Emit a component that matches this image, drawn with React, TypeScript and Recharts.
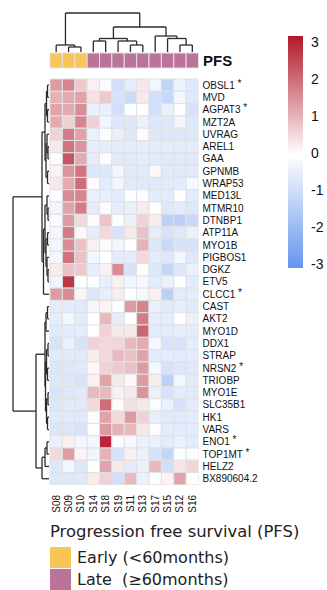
import React from 'react'
import { ComposedChart, XAxis, YAxis, ReferenceArea, ReferenceLine, Scatter } from 'recharts'

const samples = ['S08', 'S09', 'S10', 'S14', 'S18', 'S19', 'S11', 'S13', 'S17', 'S15', 'S12', 'S16']
const pfsGroup = ['Early', 'Early', 'Early', 'Late', 'Late', 'Late', 'Late', 'Late', 'Late', 'Late', 'Late', 'Late']

const genes = [
  'OBSL1', 'MVD', 'AGPAT3', 'MZT2A', 'UVRAG', 'AREL1', 'GAA', 'GPNMB', 'WRAP53', 'MED13L', 'MTMR10',
  'DTNBP1', 'ATP11A', 'MYO1B', 'PIGBOS1', 'DGKZ', 'ETV5', 'CLCC1', 'CAST', 'AKT2', 'MYO1D', 'DDX1',
  'STRAP', 'NRSN2', 'TRIOBP', 'MYO1E', 'SLC35B1', 'HK1', 'VARS', 'ENO1', 'TOP1MT', 'HELZ2', 'BX890604.2',
]
const starredGenes = ['OBSL1', 'AGPAT3', 'CLCC1', 'NRSN2', 'ENO1', 'TOP1MT']

// z-scores, one row per gene, columns in sample order
const zScores = [
  [1.3, 1.6, 0.7, 0.2, -0.1, -0.9, -0.5, 0.3, -0.25, -1.2, -0.35, -0.65],
  [1.0, 1.1, 1.2, 0.4, 0.7, -0.8, -1.0, 0.3, -0.9, -1.1, -0.25, -0.65],
  [1.2, 1.1, 1.5, -0.4, -0.4, -0.9, 0.0, 0.0, -0.9, -0.4, -0.05, -0.8],
  [1.1, 0.6, 1.6, 0.6, -0.25, -0.65, -0.65, -0.4, -0.65, -0.65, -0.25, -0.65],
  [0.6, 1.7, 1.2, -0.4, 0.02, -0.4, -0.65, 0.05, -0.65, -0.65, -0.65, -0.65],
  [0.3, 1.8, 1.4, -0.5, -0.5, -0.55, -0.55, -0.5, -0.55, -0.55, -0.55, -0.55],
  [-0.05, 2.2, 1.1, -0.5, -0.05, -0.6, -0.6, -0.55, -0.6, -0.6, -0.6, -0.6],
  [0.15, 1.4, 1.8, -0.65, -0.65, -0.25, -0.6, -0.6, 0.12, -0.6, -0.6, -0.6],
  [0.3, 1.1, 1.9, 0.05, -0.55, -0.25, -0.6, -0.6, -0.6, -0.6, -0.55, -0.2],
  [-0.05, 1.5, 1.6, -0.4, -0.45, -0.55, -0.05, -0.05, -0.55, -0.55, 0.0, -0.55],
  [-0.25, 1.2, 1.7, -0.5, 0.05, -0.5, -0.4, 0.25, 0.0, -0.65, -0.55, -0.65],
  [-0.1, 1.3, 0.5, 0.05, 0.75, -0.05, -0.4, 0.6, 0.25, -1.3, -1.3, -1.05],
  [-0.25, 1.7, 0.1, -0.5, 0.5, -0.8, 0.3, 0.8, -0.5, -0.8, -0.65, -0.4],
  [-0.25, 1.5, 0.8, 0.2, -0.1, -0.25, 0.0, 1.0, -0.65, -1.05, -0.8, -0.8],
  [-0.25, 1.8, 0.8, -0.25, 0.0, -0.55, -0.55, 0.5, -0.55, -0.65, -0.25, -0.65],
  [0.25, 0.8, 0.7, -0.45, 0.2, 1.5, -0.8, 0.05, -0.65, -1.15, -0.65, -0.4],
  [-0.3, 2.6, 0.0, -0.05, -0.45, 0.2, -0.25, -0.2, -0.55, -0.4, 0.0, -0.55],
  [1.3, 1.5, 0.15, -0.7, -0.45, 0.25, 0.0, -0.2, 0.2, -1.3, -0.55, -0.5],
  [-0.55, -0.55, -0.6, -0.25, 0.15, 0.0, 1.3, 1.6, -0.4, -0.6, -0.45, -0.6],
  [-0.55, -0.25, -0.55, 0.0, 0.9, -0.5, 0.0, 1.7, -0.5, -0.5, 0.0, -0.4],
  [-0.6, -0.55, -0.55, 0.0, 0.6, 0.3, 0.3, 2.0, -0.55, -0.55, -0.45, -0.55],
  [-0.8, -0.4, -0.8, 0.6, 0.5, 0.55, 0.9, 1.1, -0.2, -0.8, -0.8, -0.55],
  [-0.6, -0.6, -0.6, 0.25, 0.5, 0.9, 0.8, 1.2, -0.55, -0.55, -0.55, -0.55],
  [-0.7, -0.65, -0.6, 0.1, 0.6, 0.7, 0.8, 1.3, -0.2, -0.8, -0.65, -0.6],
  [-0.65, -0.65, -0.8, 0.2, 1.2, 0.3, 0.1, 1.3, 0.25, -1.3, -0.25, -0.6],
  [-0.8, -0.65, -0.6, 0.9, 0.9, 0.2, 0.3, 1.4, -0.4, -0.8, -0.55, -0.6],
  [-0.65, -0.6, -0.6, 0.5, 1.9, 0.05, 0.4, 0.3, -0.05, -0.4, -0.8, -0.55],
  [-0.6, -0.6, -0.6, -0.05, 1.2, 0.5, 1.3, 0.6, -0.45, -0.6, -0.6, -0.55],
  [-0.7, -0.7, -0.8, -0.05, 1.3, 1.0, 0.9, 0.3, -0.05, -0.55, -0.55, -0.55],
  [-0.4, 0.2, -0.25, -0.25, 2.8, -0.05, -0.2, -0.4, -0.4, -0.55, -0.4, -0.55],
  [0.5, 1.3, 0.15, -0.3, 1.0, -0.8, 0.2, -0.4, -0.8, -1.15, -0.05, -0.05],
  [-0.65, -0.25, -0.65, 0.0, 1.2, 0.3, -0.55, -0.4, 0.9, -0.9, 0.35, 0.55],
  [-0.65, -0.65, -0.6, 0.25, 0.6, -0.9, 0.9, -0.4, -0.05, 0.15, 1.2, 0.0],
]

// dendrograms: leaf = index, node = [left, right, height]
type Tree = number | [Tree, Tree, number]
const sampleTree: Tree = [
  [0, [1, 2, 5], 7],
  [[[3, 4, 11], [5, [6, 7, 7], 11], 13.5], [8, [9, [10, 11, 7], 13.5], 16], 25],
  39,
]
const geneTree: Tree = [
  [
    [[[0, 1, 1.5], [2, 3, 1.5], 2.5], [[4, [5, 6, 1], 2], [7, 8, 1.5], 3], 4],
    [[[9, [10, 11, 1], 2], [[12, 13, 1.5], [14, [15, 16, 1], 2], 3], 4], 17, 5.5],
    7,
  ],
  [
    [[[18, 19, 1.5], 20, 3], [[[21, 22, 1], [23, 24, 1.5], 2.5], [[25, 26, 1], [27, 28, 1.5], 2.5], 3.5], 4],
    [[[29, 30, 2], 31, 4], 32, 7],
    13,
  ],
  36,
]

const legendTicks = [3, 2, 1, 0, -1, -2, -3]
const groupColors: Record<string, string> = { Early: '#F8C656', Late: '#BC7399' }

// layout (px)
const W = 327
const H = 590
const CW = 12.375
const RH = 12.3
const HM_LEFT = 50
const HM_TOP = 79
const XMIN = -3.1
const YMIN = -5.5
const FONT = '"Liberation Sans", Arial, Helvetica, sans-serif'
const WIDE_FONT = '"DejaVu Sans", Verdana, sans-serif'

const LOW = [100, 149, 237]
const MID = [255, 255, 255]
const HIGH = [178, 24, 43]

function zColor(v: number) {
  const t = Math.min(Math.abs(v) / 3, 1)
  const end = v < 0 ? LOW : HIGH
  const c = MID.map((m, i) => Math.round(m + (end[i] - m) * t))
  return `rgb(${c[0]},${c[1]},${c[2]})`
}

const cells = zScores.flatMap((row, r) => row.map((z, c) => ({ col: c + 0.5, row: r + 0.5, z })))

type Seg = [number, number, number, number] // pos1, h1, pos2, h2
function walk(node: Tree, segs: Seg[]): { pos: number; h: number } {
  if (typeof node === 'number') return { pos: node + 0.5, h: 0 }
  const [l, r, h] = node
  const L = walk(l, segs)
  const R = walk(r, segs)
  segs.push([L.pos, L.h, L.pos, h])
  segs.push([R.pos, R.h, R.pos, h])
  segs.push([L.pos, h, R.pos, h])
  return { pos: (L.pos + R.pos) / 2, h }
}

const sampleSegs: Seg[] = []
walk(sampleTree, sampleSegs)
const geneSegs: Seg[] = []
walk(geneTree, geneSegs)

const colDendY = (h: number) => -(27 + h) / RH
const rowDendX = (h: number) => -(1 + h) / CW

const HeatCell = (props: any) => {
  const { cx, cy, payload } = props
  if (cx == null || cy == null) return null
  return (
    <rect
      x={cx - CW / 2}
      y={cy - RH / 2}
      width={CW}
      height={RH}
      fill={zColor(payload.z)}
      stroke="#e1e1e1"
      strokeWidth={1}
    />
  )
}

const GeneTick = (props: any) => {
  const { x, y, payload } = props
  const name = genes[Math.floor(payload.value)]
  return (
    <text x={x} y={y} dy="0.35em" fontSize={10} fontFamily={FONT} fill="#111">
      {name}
      {starredGenes.includes(name) && (
        <tspan dy={-2} fontSize={10}>
          {' *'}
        </tspan>
      )}
    </text>
  )
}

const SampleTick = (props: any) => {
  const { x, y, payload } = props
  return (
    <text
      x={x}
      y={y}
      dy="0.35em"
      transform={`rotate(-90, ${x}, ${y})`}
      textAnchor="end"
      fontSize={10}
      fontFamily={FONT}
      fill="#111"
    >
      {samples[Math.floor(payload.value)]}
    </text>
  )
}

const layer: React.CSSProperties = { position: 'absolute', left: 0, top: 0 }

export default function App() {
  const plotRight = HM_LEFT + samples.length * CW
  const plotBottom = HM_TOP + genes.length * RH
  return (
    <div style={{ position: 'absolute', left: 0, top: 0, width: W, height: H, background: '#fff', fontFamily: FONT }}>
      <div style={layer}>
        <ComposedChart
          width={W}
          height={H}
          data={cells}
          margin={{
            top: HM_TOP + YMIN * RH,
            left: HM_LEFT + XMIN * CW,
            right: W - plotRight - 120,
            bottom: H - plotBottom - 30,
          }}
        >
          <XAxis
            type="number"
            dataKey="col"
            domain={[XMIN, samples.length]}
            allowDataOverflow
            ticks={samples.map((_, i) => i + 0.5)}
            tick={<SampleTick />}
            tickLine={false}
            axisLine={false}
            tickSize={4}
            tickMargin={6}
            height={30}
            interval={0}
          />
          <YAxis
            type="number"
            dataKey="row"
            orientation="right"
            reversed
            domain={[YMIN, genes.length]}
            allowDataOverflow
            ticks={genes.map((_, i) => i + 0.5)}
            tick={<GeneTick />}
            tickLine={false}
            axisLine={false}
            tickSize={2}
            tickMargin={2}
            width={120}
            interval={0}
          />
          <Scatter dataKey="row" shape={<HeatCell />} isAnimationActive={false} />
          {pfsGroup.map((g, c) => (
            <ReferenceArea
              key={`a${c}`}
              x1={c}
              x2={c + 1}
              y1={-26 / RH}
              y2={-11 / RH}
              fill={groupColors[g]}
              fillOpacity={1}
              stroke="#e1e1e1"
              strokeWidth={1}
              ifOverflow="visible"
            />
          ))}
          {sampleSegs.map((s, i) => (
            <ReferenceLine
              key={`sd${i}`}
              segment={[
                { x: s[0], y: colDendY(s[1]) },
                { x: s[2], y: colDendY(s[3]) },
              ]}
              stroke="#2b2b2b"
              strokeWidth={1.3}
              ifOverflow="visible"
            />
          ))}
          {geneSegs.map((s, i) => (
            <ReferenceLine
              key={`gd${i}`}
              segment={[
                { x: rowDendX(s[1]), y: s[0] },
                { x: rowDendX(s[3]), y: s[2] },
              ]}
              stroke="#2b2b2b"
              strokeWidth={1.3}
              ifOverflow="visible"
            />
          ))}
        </ComposedChart>
      </div>

      <div style={layer}>
        <ComposedChart
          width={W}
          height={H}
          data={[{ x: 0.5, y: 0 }]}
          margin={{ top: 36, bottom: H - 268, left: 288, right: W - 303 - 22 }}
        >
          <defs>
            <linearGradient id="zGrad" x1="0" y1="0" x2="0" y2="1">
              <stop offset="0%" stopColor={zColor(3.15)} />
              <stop offset="51.3%" stopColor="#ffffff" />
              <stop offset="100%" stopColor={zColor(-3.1)} />
            </linearGradient>
          </defs>
          <XAxis type="number" dataKey="x" domain={[0, 1]} hide />
          <YAxis
            type="number"
            dataKey="y"
            orientation="right"
            domain={[-3.1, 3.15]}
            allowDataOverflow
            ticks={legendTicks}
            tickLine={false}
            axisLine={false}
            tickSize={6}
            tickMargin={2}
            width={22}
            tick={{ fontSize: 14, fill: '#111', fontFamily: FONT, textAnchor: 'start' }}
            interval={0}
          />
          <ReferenceArea x1={0} x2={1} y1={-3.1} y2={3.15} fill="url(#zGrad)" fillOpacity={1} ifOverflow="visible" />
        </ComposedChart>
      </div>

      <div style={{ position: 'absolute', left: 203, top: 52, fontSize: 15, fontWeight: 'bold', lineHeight: '18px', color: '#111' }}>
        PFS
      </div>

      <div style={{ position: 'absolute', left: 50, top: 522, fontFamily: WIDE_FONT, fontSize: 16.4, lineHeight: '20px', color: '#222', whiteSpace: 'pre' }}>
        Progression free survival (PFS)
      </div>
      {['Early', 'Late'].map((g, i) => (
        <div key={g} style={{ position: 'absolute', left: 50, top: 546 + i * 22, height: 22, display: 'flex', alignItems: 'center' }}>
          <div style={{ width: 21, height: 21, background: groupColors[g], marginRight: 6 }} />
          <span style={{ fontFamily: WIDE_FONT, fontSize: 16, color: '#222', whiteSpace: 'pre' }}>
            {g === 'Early' ? 'Early (<60months)' : 'Late  (\u226560months)'}
          </span>
        </div>
      ))}
    </div>
  )
}
